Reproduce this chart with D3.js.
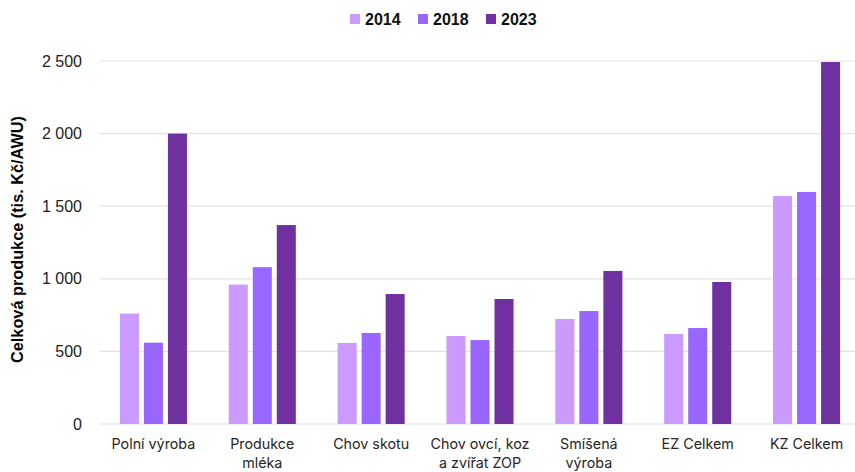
<!DOCTYPE html>
<html><head><meta charset="utf-8">
<script src="https://cdn.jsdelivr.net/npm/d3@7"></script>
<style>body{margin:0;background:#fff}svg{display:block}</style>
</head><body>
<svg id="c" width="855" height="472"></svg>
<script>
const categories = [["Polní výroba"],["Produkce","mléka"],["Chov skotu"],["Chov ovcí, koz","a zvířat ZOP"],["Smíšená","výroba"],["EZ Celkem"],["KZ Celkem"]];
const seriesNames = ["2014","2018","2023"];
const values2014 = [760, 960, 558, 606, 723, 620, 1570];
const values2018 = [560, 1080, 627, 578, 778, 661, 1598];
const values2023 = [2000, 1370, 895, 861, 1054, 978, 2493];
const yTicks = [0, 500, 1000, 1500, 2000, 2500];
const colors = ["#cc99ff", "#9966ff", "#7030a0"];

(function(){
const series = [values2014, values2018, values2023];
const svg = d3.select("#c");
const pL = 99, pR = 861, pT = 61, pB = 424;
const catIdx = categories.map((d,i)=>i);
const x0 = d3.scaleBand().domain(catIdx).range([pL, pR]).paddingInner(0.384).paddingOuter(0.192);
const x1 = d3.scaleBand().domain(seriesNames).range([0, x0.bandwidth()]).paddingInner(0.208).paddingOuter(0);
const y = d3.scaleLinear().domain([0, 2500]).range([pB, pT]);
const fmt = v => v === 0 ? "0" : d3.format(",")(v).replace(/,/g, " ");

svg.append("g").selectAll("line").data(yTicks).join("line")
  .attr("x1", pL).attr("x2", pR)
  .attr("y1", d=>y(d)).attr("y2", d=>y(d))
  .attr("stroke", "#e3e3e3").attr("stroke-width", 1.2);

svg.append("g").selectAll("text").data(yTicks).join("text")
  .attr("x", 82).attr("y", d=>y(d)).attr("dy", "0.35em")
  .attr("text-anchor", "end")
  .attr("font-family", "Liberation Sans, Arial, sans-serif").attr("font-size", 16)
  .attr("fill", "#222")
  .text(fmt);

const g = svg.append("g");
catIdx.forEach(ci => {
  seriesNames.forEach((s, si) => {
    const v = series[si][ci];
    g.append("rect")
      .attr("x", x0(ci) + x1(s))
      .attr("width", x1.bandwidth())
      .attr("y", y(v))
      .attr("height", y(0) - y(v))
      .attr("fill", colors[si]);
  });
});

const cl = svg.append("g");
catIdx.forEach(ci => {
  const cx = x0(ci) + x0.bandwidth()/2;
  const t = cl.append("text")
    .attr("x", cx).attr("y", 449)
    .attr("text-anchor", "middle")
    .attr("font-family", "Inter, sans-serif").attr("font-size", 14.3)
    .attr("fill", "#262626");
  categories[ci].forEach((line, li) => {
    t.append("tspan").attr("x", cx).attr("dy", li === 0 ? 0 : 19).text(line);
  });
});

svg.append("text")
  .attr("transform", `translate(23, ${(pT+pB)/2 - 3}) rotate(-90)`)
  .attr("text-anchor", "middle")
  .attr("font-family", "Liberation Sans, Arial, sans-serif").attr("font-size", 16.3)
  .attr("font-weight", "bold").attr("fill", "#000")
  .text("Celková produkce (tis. Kč/AWU)");

const lx = [350, 418, 486];
const lg = svg.append("g");
seriesNames.forEach((s, i) => {
  lg.append("rect").attr("x", lx[i]).attr("y", 14).attr("width", 10).attr("height", 10).attr("fill", colors[i]);
  lg.append("text").attr("x", lx[i] + 15).attr("y", 19).attr("dy", "0.35em")
    .attr("font-family", "Liberation Sans, Arial, sans-serif").attr("font-size", 16)
    .attr("font-weight", "bold").attr("fill", "#111").text(s);
});
})();
</script>
</body></html>
